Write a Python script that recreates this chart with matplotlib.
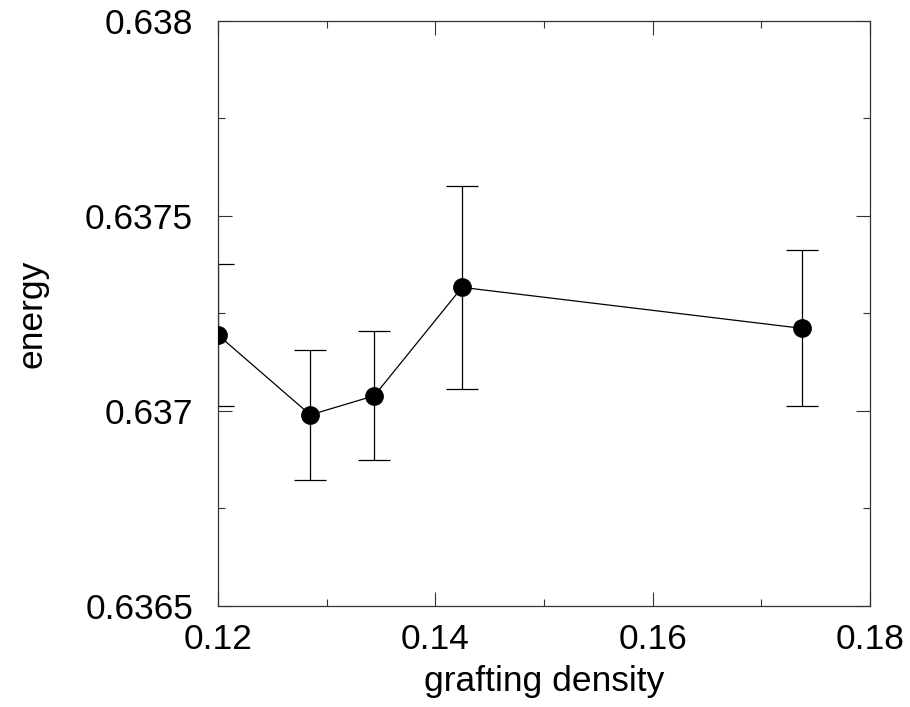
import matplotlib
matplotlib.use("Agg")
import matplotlib.pyplot as plt
from matplotlib.ticker import MultipleLocator, FixedLocator

plt.rcParams['font.family'] = ['Liberation Sans', 'DejaVu Sans']

# grafting density vs energy, with error bars
density = [0.1200, 0.12849, 0.13438, 0.14245, 0.17371]
energy = [0.637195, 0.636990, 0.637039, 0.637317, 0.637212]
err = [0.000183, 0.000166, 0.000165, 0.000260, 0.000200]

xticks = [0.12, 0.14, 0.16, 0.18]
xticklabels = ["0.12", "0.14", "0.16", "0.18"]
yticks = [0.6365, 0.637, 0.6375, 0.638]
yticklabels = ["0.6365", "0.637", "0.6375", "0.638"]

fig = plt.figure(figsize=(9.1, 7.07), dpi=100)
ax = fig.add_axes([0.2396, 0.1429, 0.7165, 0.8274])

ax.errorbar(density, energy, yerr=err, fmt='none', ecolor='black',
            elinewidth=0.9, capsize=11.5, capthick=0.9, zorder=2)
ax.plot(density, energy, color='black', linewidth=0.9, marker='o',
        markersize=12.5, markerfacecolor='black', markeredgecolor='black', zorder=3)

ax.set_xlim(0.12, 0.18)
ax.set_ylim(0.6365, 0.638)
ax.set_xticks(xticks)
ax.set_xticklabels(xticklabels)
ax.set_yticks(yticks)
ax.set_yticklabels(yticklabels)
ax.xaxis.set_minor_locator(MultipleLocator(0.01))
ax.yaxis.set_minor_locator(FixedLocator([0.63675, 0.63725, 0.63775]))

ax.tick_params(which='both', direction='in', top=True, right=True, width=0.8, color='#333333')
ax.tick_params(which='major', length=10, labelsize=25.5)
ax.tick_params(which='minor', length=5)
ax.tick_params(axis='y', which='major', pad=18)
ax.tick_params(axis='x', which='major', pad=12)

for s in ax.spines.values():
    s.set_linewidth(0.9)
    s.set_color('#333333')

ax.set_xlabel('grafting density', fontsize=25.5, labelpad=7)
ax.set_ylabel('energy', fontsize=25.5, labelpad=26)

fig.savefig('out.png', dpi=100)
